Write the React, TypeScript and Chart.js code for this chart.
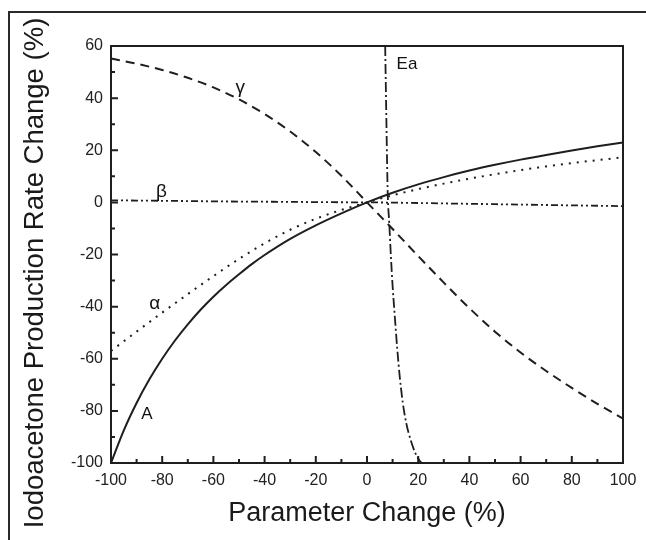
import React, { useEffect, useRef } from "react";
import { Chart, registerables } from "chart.js";

Chart.register(...registerables);

// ---- data ----
const gridX = [-100, -90, -80, -70, -60, -50, -40, -30, -20, -10, 0, 10, 20, 30, 40, 50, 60, 70, 80, 90, 100];

const seriesAX = [-100, -95, -90, -85, -80, -75, -70, -65, -60, -55, -50, -45, -40, -30, -20, -10, 0, 10, 20, 30, 40, 50, 60, 70, 80, 90, 100];
const seriesAY = [-100, -87.5, -77, -67.9, -60, -53, -46.8, -41.2, -36.2, -31.7, -27.6, -23.7, -20.2, -14, -8.8, -4.2, 0, 3.7, 6.9, 9.7, 12.2, 14.4, 16.4, 18.2, 19.9, 21.5, 23.0];

const alphaY = [-57, -49.6, -42.3, -35.2, -28.3, -21.7, -15.7, -10.5, -6.3, -2.9, 0, 2.7, 5.1, 7.2, 9.1, 10.8, 12.4, 13.8, 15.1, 16.2, 17.3];
const betaY = [0.8, 0.7, 0.6, 0.5, 0.4, 0.3, 0.25, 0.2, 0.1, 0.05, 0, -0.1, -0.25, -0.4, -0.55, -0.7, -0.85, -1.0, -1.15, -1.3, -1.45];
const gammaY = [55.2, 53.2, 50.8, 47.8, 44.1, 39.5, 33.9, 27.2, 19.3, 10.2, 0, -10.2, -20.6, -30.8, -40.6, -49.6, -57.6, -64.7, -71.2, -77.3, -83];

const eaX = [7.1, 7.35, 7.6, 7.85, 8.1, 8.7, 9.3, 10.0, 10.8, 11.8, 12.8, 14.0, 15.4, 17.0, 18.8, 20.5, 21.3];
const eaY = [60, 45, 30, 15, 3, -8, -20, -32, -43, -56, -67, -77, -85, -91, -96, -99, -100];

const curveLabels = ["γ", "β", "α", "A", "Ea"];
const curveLabelX = [-49.5, -80.3, -82.9, -86, 15.6];
const curveLabelY = [44, 4, -38.9, -81.4, 52.8];

const xTitle = "Parameter Change (%)";
const yTitle = "Iodoacetone Production Rate Change (%)";

const xMin = -100, xMax = 100, xStep = 20;
const yMin = -100, yMax = 60, yStep = 20;

const toPoints = (xs: number[], ys: number[]) => xs.map((x, i) => ({ x, y: ys[i] }));

export default function App() {
  const ref = useRef<HTMLCanvasElement>(null);

  useEffect(() => {
    const canvas = ref.current!;
    const ink = "#1e1e1e";
    const fontFamily = "'Liberation Sans', Arial, sans-serif";

    const decor = {
      id: "decor",
      beforeDraw(chart: any) {
        const ctx = chart.ctx;
        ctx.save();
        ctx.fillStyle = "#ffffff";
        ctx.fillRect(0, 0, chart.width, chart.height);
        ctx.strokeStyle = "#2a2a2a";
        ctx.lineWidth = 2;
        ctx.beginPath();
        ctx.moveTo(9, chart.height + 2);
        ctx.lineTo(9, 12);
        ctx.lineTo(chart.width + 2, 12);
        ctx.stroke();
        ctx.restore();
      },
      afterDatasetsDraw(chart: any) {
        const ctx = chart.ctx;
        const a = chart.chartArea;
        const xs = chart.scales.x;
        const ys = chart.scales.y;
        ctx.save();
        ctx.strokeStyle = ink;
        ctx.lineWidth = 2;
        ctx.strokeRect(a.left, a.top, a.right - a.left, a.bottom - a.top);
        // inward ticks
        const xt = xs.ticks.map((t: any) => t.value);
        ctx.beginPath();
        xt.forEach((v: number, i: number) => {
          const p = xs.getPixelForValue(v);
          ctx.moveTo(p, a.bottom);
          ctx.lineTo(p, a.bottom - 7);
          if (i < xt.length - 1) {
            const m = xs.getPixelForValue((v + xt[i + 1]) / 2);
            ctx.moveTo(m, a.bottom);
            ctx.lineTo(m, a.bottom - 4);
          }
        });
        const yt = ys.ticks.map((t: any) => t.value);
        yt.forEach((v: number, i: number) => {
          const p = ys.getPixelForValue(v);
          ctx.moveTo(a.left, p);
          ctx.lineTo(a.left + 7, p);
          if (i < yt.length - 1) {
            const m = ys.getPixelForValue((v + yt[i + 1]) / 2);
            ctx.moveTo(a.left, m);
            ctx.lineTo(a.left + 4, m);
          }
        });
        ctx.stroke();
        // curve labels
        ctx.fillStyle = "#111";
        ctx.textAlign = "center";
        ctx.textBaseline = "middle";
        curveLabels.forEach((t, i) => {
          const size = t.length > 1 || t === "A" ? 17 : 19;
          ctx.font = `${size}px ${fontFamily}`;
          ctx.fillText(t, xs.getPixelForValue(curveLabelX[i]), ys.getPixelForValue(curveLabelY[i]));
        });
        ctx.restore();
      },
      afterDraw(chart: any) {
        const ctx = chart.ctx;
        const a = chart.chartArea;
        ctx.save();
        ctx.fillStyle = "#1a1a1a";
        ctx.textAlign = "center";
        ctx.textBaseline = "alphabetic";
        ctx.font = `27px ${fontFamily}`;
        ctx.fillText(xTitle, (a.left + a.right) / 2, 521);
        ctx.font = `27.5px ${fontFamily}`;
        ctx.translate(43, 273);
        ctx.rotate(-Math.PI / 2);
        ctx.fillText(yTitle, 0, 0);
        ctx.restore();
      },
    };

    const common = {
      borderColor: ink,
      pointRadius: 0,
      fill: false,
      cubicInterpolationMode: "monotone" as const,
    };

    const chart = new Chart(canvas, {
      type: "line",
      data: {
        datasets: [
          { ...common, label: "A", data: toPoints(seriesAX, seriesAY), borderWidth: 2 },
          { ...common, label: "α", data: toPoints(gridX, alphaY), borderWidth: 2, borderDash: [2, 6] },
          { ...common, label: "β", data: toPoints(gridX, betaY), borderWidth: 1.8, borderDash: [7, 3, 2, 3, 2, 3] },
          { ...common, label: "γ", data: toPoints(gridX, gammaY), borderWidth: 2, borderDash: [9, 6] },
          { ...common, label: "Ea", data: toPoints(eaX, eaY), borderWidth: 1.8, borderDash: [10, 3, 2, 3] },
        ],
      },
      options: {
        animation: false,
        responsive: false,
        devicePixelRatio: 1,
        layout: { padding: { left: 0, top: 46, right: 23, bottom: 27 } },
        plugins: { legend: { display: false }, tooltip: { enabled: false }, title: { display: false } },
        scales: {
          x: {
            type: "linear",
            min: xMin,
            max: xMax,
            ticks: { stepSize: xStep, padding: 8, color: "#222", font: { family: fontFamily, size: 16 }, maxRotation: 0 },
            grid: { display: false, drawTicks: false },
            border: { display: false },
            afterFit(s: any) { s.height = 50; },
          },
          y: {
            type: "linear",
            min: yMin,
            max: yMax,
            ticks: { stepSize: yStep, padding: 8, color: "#222", font: { family: fontFamily, size: 16 } },
            grid: { display: false, drawTicks: false },
            border: { display: false },
            afterFit(s: any) { s.width = 111; },
          },
        },
      },
      plugins: [decor],
    });
    return () => chart.destroy();
  }, []);

  return (
    <div style={{ position: "fixed", left: 0, top: 0, width: 646, height: 540, background: "#fff" }}>
      <canvas ref={ref} width={646} height={540} style={{ display: "block" }} />
    </div>
  );
}
